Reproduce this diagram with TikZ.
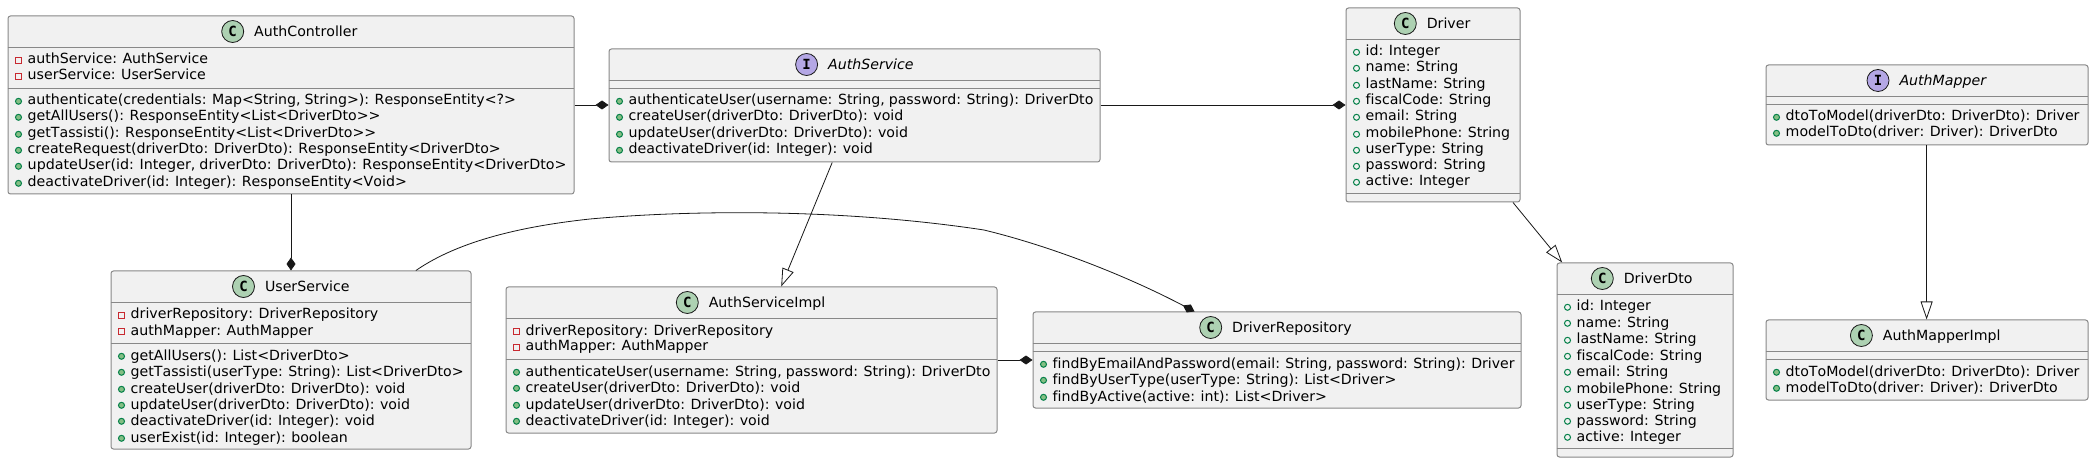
\documentclass[tikz,border=0pt]{standalone}
\usepackage{fontspec}
\setmainfont{DejaVu Sans}[RawFeature={-liga;-kern;-clig},FakeStretch=1.012,WordSpace=0.89]
\newfontfamily\iconfont{DejaVu Sans Mono}[RawFeature={-liga}]
\usetikzlibrary{arrows.meta}
\definecolor{boxfill}{HTML}{F1F1F1}
\definecolor{boxline}{HTML}{888888}
\definecolor{linkcol}{HTML}{181818}
\definecolor{classicon}{HTML}{ADD1B2}
\definecolor{ifaceicon}{HTML}{B4A7E5}
\definecolor{pubfill}{HTML}{84BE84}
\definecolor{publine}{HTML}{038048}
\definecolor{privline}{HTML}{C82930}
\tikzset{
  umlbox/.style={draw=boxline,fill=boxfill,line width=1pt,rounded corners=2.5pt,inner sep=0pt,anchor=north west},
  umlsep/.style={draw=boxline,line width=1pt},
  icondot/.style={draw=linkcol,line width=0.8pt},
  rowtext/.style={anchor=base west,inner sep=0pt,text=black,font=\fontsize{14}{16}\selectfont},
  icontext/.style={anchor=center,inner sep=0pt,text=black,font=\iconfont\bfseries\fontsize{14}{16}\selectfont},
  link/.style={draw=linkcol,line width=0.8pt},
  compo/.style={link,-{Diamond[length=13pt,width=9pt,fill=linkcol]}},
  inherit/.style={link,-{Triangle[open,length=18pt,width=12pt,fill=white,line width=0.8pt]}},
}
\newcounter{rw}
% id y1 x1 x2 y2
\newcommand{\umlnode}[5]{%
  \node[umlbox,minimum width={(#4-#3+0)*1pt},minimum height={(#5-#2)*1pt}] (#1) at (#3,#2) {};}
\newcommand{\umlsepline}[3]{\draw[umlsep] (#1,#3) -- (#2,#3);}
\newcommand{\umlhead}[6]{%
  \fill[#4] (#2,#3) circle[radius=11pt];
  \draw[icondot] (#2,#3) circle[radius=11pt];
  \node[icontext] (#1icon) at (#2,#3) {#5};
  \node[rowtext] (#1name) at ({#2+21.3},{#3+5}) {#6};}
\newcommand{\startrows}[2]{\xdef\rowx{#1}\pgfmathsetmacro{\tmpy}{#2+16.5}\xdef\rowy{\tmpy}\setrowb}
\newcommand{\setrowb}{\pgfmathsetmacro{\tmpb}{round(\rowy)}\xdef\rowb{\tmpb}}
\newcommand{\nextrow}{\pgfmathsetmacro{\tmpy}{\rowy+16.3}\xdef\rowy{\tmpy}\setrowb\stepcounter{rw}}
\newcommand{\rowlabel}[2][1]{\node[rowtext,xscale=#1,transform shape] (t\number\value{rw}) at ({\rowx+20},\rowb) {#2};\nextrow}
\newcommand{\mrow}[2][1]{\filldraw[fill=pubfill,draw=publine,line width=1pt] ({\rowx+11},{\rowb-3.7}) circle[radius=3pt];\rowlabel[#1]{#2}}
\newcommand{\frow}[1]{\draw[draw=publine,line width=1pt] ({\rowx+11},{\rowb-3.7}) circle[radius=3pt];\rowlabel{#1}}
\newcommand{\prow}[1]{\draw[draw=privline,line width=1pt] ({\rowx+8},{\rowb-6.5}) rectangle ({\rowx+14},{\rowb-0.5});\rowlabel{#1}}
\begin{document}
\begin{tikzpicture}[x=1pt,y=-1pt]
\useasboundingbox (0,0) rectangle (2094,462);
\fill[white] (0,0) rectangle (2094,462);
% --- boxes
\umlnode{authcontroller}{15.5}{7.5}{573.5}{193.5}
\umlnode{authservice}{48.5}{608.5}{1099.5}{161.5}
\umlnode{driver}{7.5}{1345.5}{1519.5}{201.5}
\umlnode{userservice}{270.5}{110.5}{470.5}{448.5}
\umlnode{authserviceimpl}{286.5}{505.5}{996.5}{432.5}
\umlnode{driverrepository}{311.5}{1032.5}{1520.5}{407.5}
\umlnode{driverdto}{262.5}{1556.5}{1732.5}{456.5}
\umlnode{authmapper}{64.5}{1765.5}{2087.5}{144.5}
\umlnode{authmapperimpl}{319.5}{1765.5}{2087.5}{399.5}
% --- connectors
\draw[compo] (driver.west -| authcontroller.east) -- (driver.west -| authservice.west);
\draw[compo] (authservice.east |- driver.west) -- (driver.west);
\draw[compo] (authcontroller.south -| userservice.north) -- (userservice.north);
\draw[compo] (authserviceimpl.east |- driverrepository.west) -- (driverrepository.west);
\draw[compo] ([xshift=124.9pt]userservice.north) .. controls (460,240) and (525,226) .. (590,219)
   .. controls (640,214.5) and (690,212.7) .. (740,212.7)
   .. controls (820,212.7) and (905,218) .. (984,230)
   .. controls (1050,246) and (1125,275) .. ([xshift=-82.5pt]driverrepository.north);
\draw[inherit] ([xshift=-22.3pt]authservice.south) -- ([xshift=29.7pt]authserviceimpl.north);
\draw[inherit] ([xshift=80.0pt]driver.south) -- ([xshift=-82.8pt]driverdto.north);
\draw[inherit] ([xshift=-0.4pt]authmapper.south) -- ([xshift=-0.4pt]authmapperimpl.north);
% --- AuthController
\umlhead{ac}{232.7}{31.5}{classicon}{C}{AuthController}
\umlsepline{7.5}{573.5}{47.5}
\umlsepline{7.5}{573.5}{88.5}
\startrows{7.5}{47.5}
\prow{authService: AuthService}
\prow{userService: UserService}
\startrows{7.5}{88.5}
\mrow{authenticate(credentials: Map<String, String>): ResponseEntity<?>}
\mrow{getAllUsers(): ResponseEntity<List<DriverDto>{}>}
\mrow{getTassisti(): ResponseEntity<List<DriverDto>{}>}
\mrow{createRequest(driverDto: DriverDto): ResponseEntity<DriverDto>}
\mrow[1.008]{updateUser(id: Integer, driverDto: DriverDto): ResponseEntity<DriverDto>}
\mrow{deactivateDriver(id: Integer): ResponseEntity<Void>}
% --- AuthService
\umlhead{as}{806.6}{64.5}{ifaceicon}{I}{\itshape AuthService}
\umlsepline{608.5}{1099.5}{80.5}
\umlsepline{608.5}{1099.5}{88.5}
\startrows{608.5}{88.5}
\mrow{authenticateUser(username: String, password: String): DriverDto}
\mrow{createUser(driverDto: DriverDto): void}
\mrow{updateUser(driverDto: DriverDto): void}
\mrow{deactivateDriver(id: Integer): void}
% --- Driver
\umlhead{dr}{1405.3}{23.5}{classicon}{C}{Driver}
\umlsepline{1345.5}{1519.5}{39.5}
\umlsepline{1345.5}{1519.5}{193.5}
\startrows{1345.5}{39.5}
\frow{id: Integer}
\frow{name: String}
\frow{lastName: String}
\frow{fiscalCode: String}
\frow{email: String}
\frow{mobilePhone: String}
\frow{userType: String}
\frow{password: String}
\frow{active: Integer}
% --- UserService
\umlhead{us}{243.5}{286.5}{classicon}{C}{UserService}
\umlsepline{110.5}{470.5}{302.5}
\umlsepline{110.5}{470.5}{343.5}
\startrows{110.5}{302.5}
\prow{driverRepository: DriverRepository}
\prow{authMapper: AuthMapper}
\startrows{110.5}{343.5}
\mrow{getAllUsers(): List<DriverDto>}
\mrow{getTassisti(userType: String): List<DriverDto>}
\mrow{createUser(driverDto: DriverDto): void}
\mrow{updateUser(driverDto: DriverDto): void}
\mrow{deactivateDriver(id: Integer): void}
\mrow{userExist(id: Integer): boolean}
% --- AuthServiceImpl
\umlhead{ai}{687.3}{302.5}{classicon}{C}{AuthServiceImpl}
\umlsepline{505.5}{996.5}{318.5}
\umlsepline{505.5}{996.5}{359.5}
\startrows{505.5}{318.5}
\prow{driverRepository: DriverRepository}
\prow{authMapper: AuthMapper}
\startrows{505.5}{359.5}
\mrow{authenticateUser(username: String, password: String): DriverDto}
\mrow{createUser(driverDto: DriverDto): void}
\mrow{updateUser(driverDto: DriverDto): void}
\mrow{deactivateDriver(id: Integer): void}
% --- DriverRepository
\umlhead{rp}{1210.7}{327.5}{classicon}{C}{DriverRepository}
\umlsepline{1032.5}{1520.5}{343.5}
\umlsepline{1032.5}{1520.5}{351.5}
\startrows{1032.5}{351.5}
\mrow[0.995]{findByEmailAndPassword(email: String, password: String): Driver}
\mrow{findByUserType(userType: String): List<Driver>}
\mrow{findByActive(active: int): List<Driver>}
% --- DriverDto
\umlhead{dd}{1602.3}{278.5}{classicon}{C}{DriverDto}
\umlsepline{1556.5}{1732.5}{294.5}
\umlsepline{1556.5}{1732.5}{448.5}
\startrows{1556.5}{294.5}
\frow{id: Integer}
\frow{name: String}
\frow{lastName: String}
\frow{fiscalCode: String}
\frow{email: String}
\frow{mobilePhone: String}
\frow{userType: String}
\frow{password: String}
\frow{active: Integer}
% --- AuthMapper
\umlhead{am}{1878}{80.5}{ifaceicon}{I}{\itshape AuthMapper}
\umlsepline{1765.5}{2087.5}{96.5}
\umlsepline{1765.5}{2087.5}{104.5}
\startrows{1765.5}{104.5}
\mrow{dtoToModel(driverDto: DriverDto): Driver}
\mrow{modelToDto(driver: Driver): DriverDto}
% --- AuthMapperImpl
\umlhead{mi}{1861.4}{335.5}{classicon}{C}{AuthMapperImpl}
\umlsepline{1765.5}{2087.5}{351.5}
\umlsepline{1765.5}{2087.5}{359.5}
\startrows{1765.5}{359.5}
\mrow{dtoToModel(driverDto: DriverDto): Driver}
\mrow{modelToDto(driver: Driver): DriverDto}
\end{tikzpicture}
\end{document}
